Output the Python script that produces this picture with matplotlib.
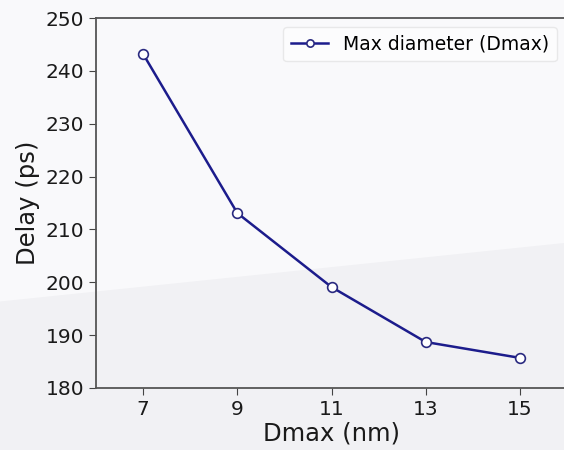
import numpy as np
import matplotlib
matplotlib.use("Agg")
import matplotlib.pyplot as plt
from matplotlib.patches import Polygon

dmax = [7, 9, 11, 13, 15]
delay = [243.2, 213.1, 199.1, 188.7, 185.7]

fig = plt.figure(figsize=(5.64, 4.5), dpi=100)
fig.patch.set_facecolor("#f1f1f4")

# lighter upper part of the slide background
band = Polygon([(0, 1), (1, 1), (1, 0.46), (0, 0.33)], closed=True,
               transform=fig.transFigure, facecolor="#f9f9fb", edgecolor="none", zorder=-5)
fig.patches.append(band)

ax = fig.add_axes([96 / 564, 62 / 450, 471 / 564, 370 / 450])
ax.patch.set_alpha(0)

ax.plot(dmax, delay, color="#1c1c8c", lw=1.8, marker="o", ms=7,
        mfc="white", mec="#2a2a80", mew=1.2, label="Max diameter (Dmax)")

ax.set_xlim(6, 16)
ax.set_ylim(180, 250)
ax.set_xticks(dmax)
ax.set_yticks(np.arange(180, 251, 10))
ax.tick_params(labelsize=14.5, color="#444444", length=5, labelcolor="#1a1a1a")
for s in ax.spines.values():
    s.set_color("#555555")
    s.set_linewidth(1.3)
ax.spines["right"].set_visible(False)

ax.set_xlabel("Dmax (nm)", fontsize=17.5, color="#1a1a1a", labelpad=2)
ax.set_ylabel("Delay (ps)", fontsize=17.5, color="#1a1a1a", labelpad=4)

leg = ax.legend(loc="upper right", bbox_to_anchor=(0.979, 0.975), borderaxespad=0,
                fontsize=13.5, frameon=True, fancybox=True, markerscale=0.75)
leg.get_frame().set_facecolor("white")
leg.get_frame().set_alpha(0.6)
leg.get_frame().set_edgecolor("#dddddd")

fig.savefig("out.png", dpi=100, facecolor=fig.get_facecolor())
